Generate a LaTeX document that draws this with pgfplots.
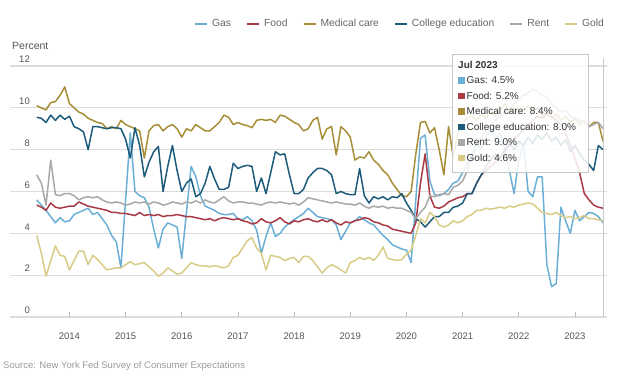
\documentclass[border=0pt]{standalone}
\usepackage{fontspec}
\setmainfont{Liberation Sans}
\usepackage{pgfplots}
\usepackage{pgfplotstable}
\pgfplotsset{compat=1.18}
\definecolor{gascol}{HTML}{6BAED6}
\definecolor{foodcol}{HTML}{A83A45}
\definecolor{medcol}{HTML}{A68D36}
\definecolor{colcol}{HTML}{1D5B7A}
\definecolor{rentcol}{HTML}{A8A8A8}
\definecolor{goldcol}{HTML}{D8CB86}
\definecolor{gridcol}{HTML}{DCDCDC}
\definecolor{tickcol}{HTML}{BBBBBB}
\definecolor{labcol}{HTML}{555555}
\definecolor{legcol}{HTML}{666666}
\definecolor{srccol}{HTML}{9A9A9A}
\definecolor{tipcol}{HTML}{333333}
\newcommand{\sq}[1]{\textcolor{#1}{\rule{6.5pt}{6.5pt}}\hspace{2pt}}

\pgfplotstableread{
m gas food med col rent gold
5 5.6 5.35 10.1 9.55 6.8 3.9
6 5.35 5.25 10.0 9.5 6.4 3.05
7 5.1 5.1 9.9 9.3 5.35 1.95
8 4.8 5.45 10.25 9.65 7.5 2.7
9 4.5 5.25 10.3 9.4 5.85 3.4
10 4.75 5.2 10.6 9.65 5.8 2.95
11 4.55 5.25 11.0 9.45 5.9 2.9
12 4.6 5.3 10.2 9.6 5.9 2.25
13 4.9 5.3 10.0 9.1 5.8 2.7
14 5.0 5.5 9.8 9.0 5.6 3.15
15 5.1 5.4 9.7 8.85 5.7 3.15
16 5.2 5.3 9.5 8.0 5.75 2.5
17 4.9 5.25 9.4 9.1 5.7 2.95
18 5.0 5.2 9.3 9.1 5.75 2.75
19 4.7 5.15 9.25 9.05 5.6 2.5
20 4.4 5.1 9.0 9.0 5.5 2.25
21 3.9 5.0 9.1 9.05 5.45 2.3
22 3.6 5.0 9.0 9.05 5.5 2.35
23 2.35 4.95 9.4 9.0 5.45 2.35
24 5.6 4.95 9.2 8.5 5.35 2.5
25 8.8 4.9 9.1 7.6 5.4 2.65
26 6.0 4.85 9.0 9.05 5.5 2.5
27 5.8 5.0 8.9 8.2 5.45 2.55
28 5.7 4.85 7.6 6.7 5.5 2.6
29 5.25 4.9 8.9 7.4 5.4 2.4
30 4.2 4.85 9.15 7.9 5.5 2.2
31 3.3 4.9 9.2 8.15 5.45 1.95
32 4.2 4.8 8.9 6.0 5.35 2.1
33 4.5 4.85 9.1 7.2 5.4 2.35
34 4.4 4.85 9.2 8.2 5.5 2.2
35 4.3 4.9 9.0 7.0 5.45 2.05
36 2.8 4.85 8.6 6.0 5.4 2.1
37 5.0 4.8 9.0 6.4 5.5 2.35
38 7.2 4.8 8.9 6.6 5.45 2.6
39 6.7 4.75 9.2 5.75 5.55 2.5
40 5.8 4.7 9.05 5.9 5.45 2.45
41 5.3 4.65 8.9 6.4 5.6 2.45
42 5.2 4.7 8.9 7.2 5.5 2.4
43 5.1 4.6 9.1 6.6 5.45 2.45
44 4.95 4.7 9.3 6.1 5.6 2.4
45 4.9 4.75 9.65 6.1 5.75 2.35
46 4.9 4.7 9.55 6.2 5.55 2.45
47 4.95 4.65 9.2 7.35 5.45 2.85
48 4.7 4.7 9.3 7.1 5.5 2.95
49 4.65 4.6 9.2 7.2 5.5 3.3
50 4.8 4.55 9.15 7.25 5.45 3.65
51 4.6 4.45 9.05 7.2 5.45 3.8
52 4.15 4.5 9.4 6.0 5.4 3.3
53 3.05 4.7 9.45 6.65 5.35 3.05
54 3.85 4.55 9.4 5.9 5.45 2.25
55 4.5 4.5 9.45 6.9 5.5 2.95
56 3.85 4.6 9.3 7.9 5.45 2.9
57 4.0 4.75 9.65 7.75 5.5 2.85
58 4.3 4.55 9.6 7.8 5.45 2.7
59 4.5 4.45 9.45 6.8 5.4 2.8
60 4.65 4.6 9.3 5.9 5.45 2.85
61 4.8 4.55 9.2 5.9 5.35 2.6
62 4.95 4.65 8.9 6.1 5.5 2.9
63 5.2 4.7 9.0 6.65 5.7 2.9
64 5.0 4.6 9.4 6.9 5.65 2.7
65 4.8 4.55 9.55 7.1 5.6 2.4
66 4.75 4.65 8.5 7.1 5.55 2.1
67 4.7 4.55 9.0 7.0 5.5 2.35
68 4.65 4.65 9.1 6.8 5.45 2.5
69 4.4 4.5 7.75 5.9 5.5 2.4
70 3.7 4.4 9.1 6.0 5.45 2.25
71 4.1 4.55 8.9 5.9 5.4 2.1
72 4.5 4.5 8.6 5.85 5.4 2.6
73 4.6 4.6 7.5 5.85 5.35 2.7
74 4.8 4.65 7.65 7.1 5.45 2.85
75 4.65 4.75 7.6 5.8 5.3 2.75
76 4.5 4.7 7.9 5.45 5.2 2.85
77 4.4 4.55 7.5 5.75 5.3 2.7
78 4.15 4.5 7.3 5.65 5.25 2.95
79 3.9 4.4 7.0 5.75 5.3 3.35
80 3.7 4.35 6.8 5.6 5.2 2.8
81 3.45 4.2 6.4 5.75 5.25 2.75
82 3.35 4.15 6.1 5.7 5.2 2.7
83 3.25 4.1 5.8 5.9 5.2 2.75
84 3.2 4.05 5.75 5.45 5.1 3.0
85 2.6 4.0 6.0 5.1 5.0 3.2
86 5.6 4.5 7.8 4.7 4.7 3.9
87 8.55 6.4 9.3 4.55 5.0 4.7
88 8.7 7.8 9.35 4.3 5.25 4.5
89 6.5 5.8 8.8 4.55 5.8 5.0
90 5.85 5.25 9.05 4.8 5.75 4.8
91 5.8 5.2 8.0 4.8 5.85 4.4
92 5.9 5.3 6.8 5.0 5.9 4.3
93 6.1 5.5 9.1 5.0 5.85 4.4
94 6.4 5.6 7.65 5.25 6.2 4.6
95 6.5 5.7 8.8 5.3 6.3 4.5
96 6.9 5.75 9.3 5.45 6.5 4.6
97 7.3 5.9 9.5 5.9 7.0 4.8
98 7.8 5.9 9.6 5.9 7.6 4.9
99 8.3 6.4 9.4 6.4 8.2 5.1
100 8.0 6.8 9.7 6.8 8.6 5.1
101 8.6 7.0 9.5 7.2 8.9 5.2
102 9.0 7.2 9.8 7.5 9.2 5.15
103 8.5 7.4 9.6 7.8 9.4 5.2
104 8.8 7.6 9.9 7.6 9.6 5.25
105 8.0 7.9 10.2 8.0 9.8 5.2
106 7.0 8.2 9.8 8.3 10.0 5.3
107 5.9 8.5 10.0 8.0 10.2 5.25
108 7.5 8.7 9.7 8.4 10.4 5.35
109 8.3 9.0 9.9 8.2 10.6 5.4
110 6.0 9.2 10.1 8.6 10.7 5.45
111 5.75 9.4 9.8 8.3 10.9 5.4
112 6.7 9.6 10.0 8.7 10.8 5.2
113 6.7 9.5 9.6 8.5 10.6 5.0
114 2.5 9.7 9.8 8.8 10.5 4.95
115 1.45 9.6 9.5 8.4 10.2 4.9
116 1.6 9.4 9.7 8.6 10.0 5.0
117 5.25 9.2 9.4 8.2 9.8 4.85
118 4.6 8.8 9.6 8.5 9.9 4.75
119 4.0 8.2 9.3 7.9 9.6 4.8
120 5.1 7.6 9.5 8.2 9.5 4.7
121 4.6 6.9 9.2 7.8 9.4 4.75
122 4.8 5.9 9.4 7.5 9.3 4.85
123 5.0 5.6 9.1 7.3 9.1 4.7
124 4.95 5.35 9.3 7.0 9.2 4.7
125 4.8 5.25 9.3 8.2 9.3 4.65
126 4.5 5.2 8.4 8.0 9.0 4.6
}\datatable

\begin{document}
\begin{tikzpicture}
\useasboundingbox (-10pt,-55pt) rectangle (610pt,317pt);
\begin{axis}[
  at={(0pt,0pt)}, anchor=south west,
  width=597pt, height=251pt, scale only axis,
  xmin=-0.7, xmax=126.85, ymin=0, ymax=12,
  clip=false,
  axis line style={draw=none},
  ymajorgrids, grid style={draw=gridcol, line width=1.3pt},
  xtick={12,24,...,120},
  xticklabels={2014,2015,2016,2017,2018,2019,2020,2021,2022,2023},
  ytick={0,2,...,12},
  tick pos=left,
  xtick align=inside,
  major tick length=5pt,
  xtick style={draw=tickcol, line width=0.8pt},
  ytick style={draw=none},
  tick label style={font=\fontsize{9.5}{11}\selectfont, text=labcol},
  xticklabel style={yshift=-12pt},
  yticklabel style={anchor=south east, xshift=21pt, yshift=2pt, inner sep=1pt},
  /pgf/number format/assume math mode=true,
  legend columns=6,
  legend style={at={(0.3082,1.1673)}, anchor=west, draw=none, fill=none, inner sep=0pt,
    font=\fontsize{10.3}{12}\selectfont, text=legcol, column sep=2pt,
    /tikz/every even column/.append style={column sep=13pt}},
  legend image code/.code={\draw[#1, line width=2pt] (0pt,0pt) -- (12pt,0pt);},
  every axis plot/.append style={line width=1.5pt, line join=round, no markers},
]
\addplot[gascol] table[x=m, y=gas]{\datatable}; \addlegendentry{Gas}
\addplot[foodcol] table[x=m, y=food]{\datatable}; \addlegendentry{Food}
\addplot[medcol] table[x=m, y=med]{\datatable}; \addlegendentry{Medical care}
\addplot[colcol] table[x=m, y=col]{\datatable}; \addlegendentry{College education}
\addplot[rentcol] table[x=m, y=rent]{\datatable}; \addlegendentry{Rent}
\addplot[goldcol] table[x=m, y=gold]{\datatable}; \addlegendentry{Gold}
\draw[draw=gridcol!80!gray, line width=1pt] (axis cs:126,0) -- (axis cs:126,12.4);
\end{axis}
\fill[white, fill opacity=0.86] (442pt,145pt) rectangle (578pt,263pt);
\draw[draw=gray!45, line width=0.8pt] (442pt,145pt) rectangle (578pt,263pt);
\node[anchor=north west, align=left, inner sep=0pt, font=\fontsize{10}{15.5}\selectfont, text=tipcol] at (448pt,256pt)
 {\textbf{Jul 2023}\\ \sq{gascol}Gas: 4.5\%\\ \sq{foodcol}Food: 5.2\%\\ \sq{medcol}Medical care: 8.4\%\\ \sq{colcol}College education: 8.0\%\\ \sq{rentcol}Rent: 9.0\%\\ \sq{goldcol}Gold: 4.6\%};
\node[anchor=west, inner sep=0pt, font=\fontsize{10.5}{12}\selectfont, text=labcol] at (2pt,271pt) {Percent};
\node[anchor=west, inner sep=0pt, font=\fontsize{9.5}{11}\selectfont, text=srccol] at (-7pt,-49pt) {Source: New York Fed Survey of Consumer Expectations};
\end{tikzpicture}
\end{document}
